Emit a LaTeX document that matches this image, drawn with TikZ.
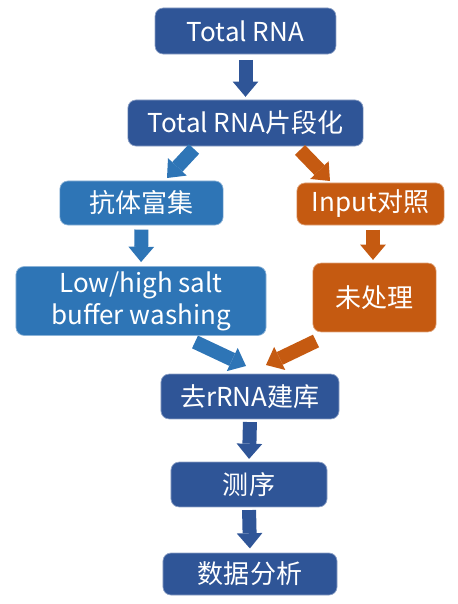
\documentclass[tikz,border=0pt]{standalone}
\usepackage{fontspec}
\newfontfamily\cjk{Noto Sans CJK SC}
\definecolor{flowdark}{RGB}{47,85,151}
\definecolor{flowblue}{RGB}{46,117,182}
\definecolor{floworange}{RGB}{197,90,17}
\usetikzlibrary{arrows.meta,positioning,calc}

\tikzset{
  flowbox/.style={rounded corners=0.2cm, fill=#1, draw=#1!55!white, line width=0.5pt,
    text=white, font=\cjk\fontsize{18.5}{22.7}\selectfont, align=center, inner sep=0pt},
  blockarrow/.style={draw=#1, line width=0.35cm,
    -{Triangle[width=0.64cm,length=0.38cm,line width=0pt]}}
}

\begin{document}
\begin{tikzpicture}[x=0.025cm, y=-0.025cm]
  \useasboundingbox (0,0) rectangle (458,604);

  % Main chain
  \node[flowbox=flowdark, minimum width=4.52cm, minimum height=1.15cm] (total) at (245.5,31) {Total RNA};
  \node[flowbox=flowdark, minimum width=5.88cm, minimum height=1.15cm] (frag) at (245.5,123) {Total RNA片段化};

  % IP branch
  \node[flowbox=flowblue, minimum width=4.08cm, minimum height=1.1cm] (ip) at (141.5,203) {抗体富集};
  \node[flowbox=flowblue, minimum width=6.25cm, minimum height=1.72cm] (wash) at (141,301) {Low/high salt\\buffer washing};

  % Input branch
  \node[flowbox=floworange, minimum width=3.68cm, minimum height=1.05cm] (input) at (370.5,204) {Input对照};
  \node[flowbox=floworange, minimum width=3.08cm, minimum height=1.72cm] (untreated) at (374.5,297.5) {未处理};

  % Library and analysis
  \node[flowbox=flowdark, minimum width=4.45cm, minimum height=1.12cm] (lib) at (250,396.5) {去rRNA建库};
  \node[flowbox=flowdark, minimum width=3.9cm, minimum height=1.12cm] (seq) at (249,484.5) {测序};
  \node[flowbox=flowdark, minimum width=4.35cm, minimum height=1.05cm] (data) at (250,574) {数据分析};

  % Free ends of the slanted arrows
  \coordinate (ipstart) at (194,149);
  \coordinate (ipend) at (167,178);
  \coordinate (inputstart) at (300,150);
  \coordinate (inputend) at (330,181);
  \coordinate (washstart) at (195,342);
  \coordinate (washend) at (246,366);
  \coordinate (untreatedstart) at (316,341);
  \coordinate (untreatedend) at (266,365);
  \coordinate (inputfoot) at ($(input.south)+(2.5,0)$);

  % Arrows
  \draw[blockarrow=flowdark, shorten <=4pt, shorten >=2pt] (total.south) -- (frag.north);
  \draw[blockarrow=flowblue] (ipstart) -- (ipend);
  \draw[blockarrow=floworange] (inputstart) -- (inputend);
  \draw[blockarrow=flowblue, shorten <=3pt, shorten >=3pt] (ip.south) -- (wash.north);
  \draw[blockarrow=floworange, shorten <=3pt, shorten >=2pt] (inputfoot) -- (inputfoot |- untreated.north);
  \draw[blockarrow=flowblue] (washstart) -- (washend);
  \draw[blockarrow=floworange] (untreatedstart) -- (untreatedend);
  \draw[blockarrow=flowdark, shorten <=2pt, shorten >=2pt] (lib.south) -- (seq.north);
  \draw[blockarrow=flowdark, shorten <=2pt, shorten >=3pt] (seq.south) -- (data.north);
\end{tikzpicture}
\end{document}
